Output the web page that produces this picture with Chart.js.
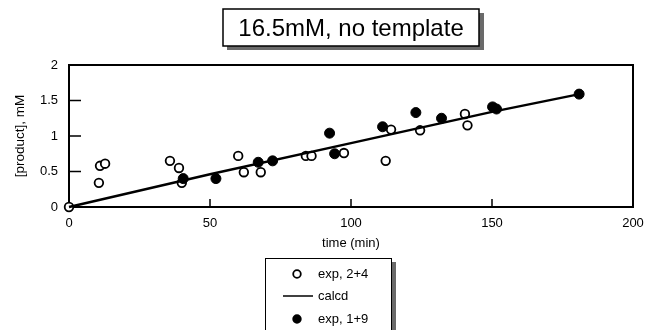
<!DOCTYPE html>
<html>
<head>
<meta charset="utf-8">
<script src="https://cdn.jsdelivr.net/npm/chart.js@4/dist/chart.umd.min.js"></script>
<style>
  html, body { margin: 0; padding: 0; background: #fff; }
  #wrap { width: 645px; height: 330px; position: relative; }
</style>
</head>
<body>
<div id="wrap"><canvas id="product-chart" width="645" height="330"></canvas></div>
<script>
// values
const titleText = '16.5mM, no template';

const open24Time = [0, 11, 10.6, 12.8, 35.8, 39, 40, 60, 62, 68, 84, 86, 97.5, 112.3, 114.2, 124.5, 140.4, 141.3];
const open24Product = [0, 0.58, 0.34, 0.61, 0.65, 0.55, 0.34, 0.72, 0.49, 0.49, 0.72, 0.72, 0.76, 0.65, 1.09, 1.08, 1.31, 1.15];

const calcdTime = [0, 50, 100, 150, 181];
const calcdProduct = [0, 0.46, 0.90, 1.34, 1.59];

const filled19Time = [40.5, 52.1, 67.1, 72.2, 92.4, 94.2, 111.2, 123, 132.1, 150.2, 151.6, 180.9];
const filled19Product = [0.40, 0.40, 0.63, 0.65, 1.04, 0.75, 1.13, 1.33, 1.25, 1.41, 1.38, 1.59];

const xTicks = [0, 50, 100, 150, 200];
const yTicks = [0, 0.5, 1, 1.5, 2];

const FONT = '"Liberation Sans", Arial, sans-serif';

function toPoints(xs, ys) {
    return xs.map((x, i) => ({ x: x, y: ys[i] }));
}

// box around the plot, inward ticks, title box and legend box
const decorations = {
    id: 'decorations',
    beforeDatasetsDraw(chart) {
        const ctx = chart.ctx;
        const a = chart.chartArea;
        const xs = chart.scales.x;
        const ys = chart.scales.y;
        ctx.save();
        ctx.strokeStyle = '#000';
        ctx.lineWidth = 2;
        ctx.strokeRect(a.left, a.top, a.right - a.left, a.bottom - a.top);
        ctx.lineWidth = 1.5;
        ctx.beginPath();
        xTicks.slice(1, -1).forEach(v => {
            const px = xs.getPixelForValue(v);
            ctx.moveTo(px, a.bottom);
            ctx.lineTo(px, a.bottom - 8);
        });
        yTicks.slice(1, -1).forEach(v => {
            const py = ys.getPixelForValue(v);
            ctx.moveTo(a.left, py);
            ctx.lineTo(a.left + 12, py);
        });
        ctx.stroke();
        ctx.restore();
    },
    afterDraw(chart) {
        const ctx = chart.ctx;
        ctx.save();
        // title box with shadow
        ctx.fillStyle = '#6a6a6a';
        ctx.fillRect(227, 13, 257, 37);
        ctx.fillStyle = '#fff';
        ctx.fillRect(223, 9, 256, 37);
        ctx.strokeStyle = '#000';
        ctx.lineWidth = 1.5;
        ctx.strokeRect(223, 9, 256, 37);
        ctx.fillStyle = '#000';
        ctx.font = '24px ' + FONT;
        ctx.textAlign = 'center';
        ctx.textBaseline = 'alphabetic';
        ctx.fillText(titleText, 351, 36);

        // legend box with shadow
        ctx.fillStyle = '#6a6a6a';
        ctx.fillRect(269, 262, 127, 80);
        ctx.fillStyle = '#fff';
        ctx.fillRect(265, 258, 127, 80);
        ctx.lineWidth = 1;
        ctx.strokeRect(265.5, 258.5, 126, 80);

        const ds = chart.data.datasets;
        const rows = [274, 296, 319];
        ctx.font = '13px ' + FONT;
        ctx.textAlign = 'left';
        ctx.textBaseline = 'middle';
        ds.forEach((d, i) => {
            const y = rows[i];
            if (d.showLine) {
                ctx.strokeStyle = d.borderColor;
                ctx.lineWidth = 1.5;
                ctx.beginPath();
                ctx.moveTo(283, y);
                ctx.lineTo(313, y);
                ctx.stroke();
            } else {
                ctx.beginPath();
                ctx.arc(297, y, 3.8, 0, Math.PI * 2);
                ctx.fillStyle = d.pointBackgroundColor;
                ctx.fill();
                ctx.lineWidth = 1.8;
                ctx.strokeStyle = d.pointBorderColor;
                ctx.stroke();
            }
            ctx.fillStyle = '#000';
            ctx.fillText(d.label, 318, y);
        });
        ctx.restore();
    }
};

const chart = new Chart(document.getElementById('product-chart'), {
    type: 'scatter',
    data: {
        datasets: [{
            label: 'exp, 2+4',
            data: toPoints(open24Time, open24Product),
            pointStyle: 'circle',
            pointRadius: 4.3,
            pointBackgroundColor: '#fff',
            pointBorderColor: '#000',
            pointBorderWidth: 1.8,
            showLine: false,
            clip: false,
            order: 3
        }, {
            label: 'calcd',
            data: toPoints(calcdTime, calcdProduct),
            borderColor: '#000',
            borderWidth: 2.5,
            pointRadius: 0,
            showLine: true,
            tension: 0,
            clip: false,
            order: 2
        }, {
            label: 'exp, 1+9',
            data: toPoints(filled19Time, filled19Product),
            pointStyle: 'circle',
            pointRadius: 5,
            pointBackgroundColor: '#000',
            pointBorderColor: '#000',
            pointBorderWidth: 1,
            showLine: false,
            clip: false,
            order: 1
        }]
    },
    options: {
        responsive: false,
        animation: false,
        devicePixelRatio: 1,
        layout: {
            padding: { left: 0, top: 65, right: 12, bottom: 75 }
        },
        scales: {
            x: {
                type: 'linear',
                min: 0,
                max: 200,
                afterBuildTicks: scale => { scale.ticks = xTicks.map(v => ({ value: v })); },
                afterFit: scale => {
                    scale.height = 48;
                    scale.paddingLeft = 0;
                    scale.paddingRight = 0;
                },
                grid: { display: false, drawTicks: false },
                border: { display: false },
                ticks: {
                    color: '#000',
                    padding: 9,
                    font: { family: FONT, size: 13 },
                    callback: v => String(v)
                },
                title: {
                    display: true,
                    text: 'time (min)',
                    color: '#000',
                    padding: { top: 0, bottom: 4 },
                    font: { family: FONT, size: 13 }
                }
            },
            y: {
                type: 'linear',
                min: 0,
                max: 2,
                afterBuildTicks: scale => { scale.ticks = yTicks.map(v => ({ value: v })); },
                afterFit: scale => {
                    scale.width = 69;
                    scale.paddingTop = 0;
                    scale.paddingBottom = 0;
                },
                grid: { display: false, drawTicks: false },
                border: { display: false },
                ticks: {
                    color: '#000',
                    padding: 11,
                    font: { family: FONT, size: 13 },
                    callback: v => String(v)
                },
                title: {
                    display: true,
                    text: '[product], mM',
                    color: '#000',
                    padding: { top: 12, bottom: 0 },
                    font: { family: FONT, size: 13.5 }
                }
            }
        },
        plugins: {
            legend: { display: false },
            tooltip: { enabled: false },
            title: { display: false }
        }
    },
    plugins: [decorations]
});
</script>
</body>
</html>
